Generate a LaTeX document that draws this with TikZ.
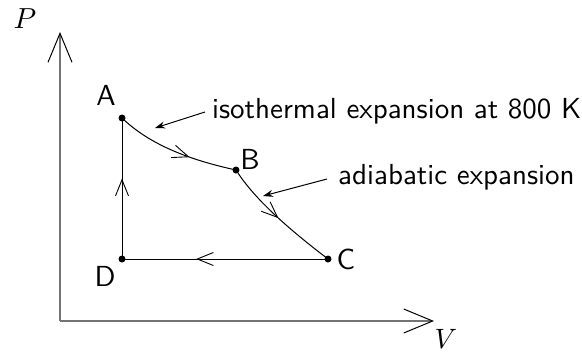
\documentclass[tikz,border=0pt]{standalone}
\usetikzlibrary{arrows.meta,decorations.markings}
\begin{document}
\begin{tikzpicture}[x=1pt,y=-1pt,
  axis/.style={draw=black!55,line width=1.4pt,-{Straight Barb[length=29pt,width=24pt,line width=1pt,black]}},
  cyc/.style={draw=black,line width=1pt},
  midarrow/.style={postaction={decorate,decoration={markings,mark=at position #1 with {\arrow{Straight Barb[length=16pt,width=13pt,line width=0.9pt]}}}}},
  pointer/.style={draw=black,line width=1pt,-{Stealth[length=10pt,width=7pt]}},
  dot/.style={circle,fill=black,inner sep=0pt,minimum size=7pt},
  lab/.style={font=\fontsize{10}{12}\selectfont\sffamily,inner sep=0pt},
  axlab/.style={font=\fontsize{10}{12}\selectfont,inner sep=0pt}]
\useasboundingbox (0,0) rectangle (582,354);
\coordinate (O) at (60,321);
\coordinate (Ptop) at (60,32);
\coordinate (Vend) at (434,321);
\draw[axis] (O) -- (Ptop);
\draw[axis] (O) -- (Vend);
\node[axlab,anchor=base] (Plab) at (25,28) {\scalebox{2.9}{$P$}};
\node[axlab,anchor=base] (Vlab) at (446,348) {\scalebox{2.8}{$V$}};
\node[dot] (A) at (122,118) {};
\node[dot] (B) at (236,170) {};
\node[dot] (C) at (328,259) {};
\node[dot] (D) at (122,259) {};
\node[lab,anchor=base] (Al) at (106,105) {\scalebox{2.9}{A}};
\node[lab,anchor=base] (Bl) at (250,169) {\scalebox{2.9}{B}};
\node[lab,anchor=base] (Cl) at (346,269) {\scalebox{2.9}{C}};
\node[lab,anchor=base] (Dl) at (105,286) {\scalebox{2.9}{D}};
\draw[cyc,midarrow=0.62] (A.center) .. controls (150,145) and (190,160) .. (B.center);
\draw[cyc,midarrow=0.5] (B.center) .. controls (255,200) and (290,230) .. (C.center);
\draw[cyc,midarrow=0.64] (C.center) -- (D.center);
\draw[cyc,midarrow=0.57] (D.center) -- (A.center);
\node[lab,anchor=base west] (iso) at (212,118) {\scalebox{2.9}{isothermal expansion at 800 K}};
\node[lab,anchor=base west] (adi) at (338,184) {\scalebox{2.9}{adiabatic expansion}};
\coordinate (isostart) at (205,112);
\coordinate (isotip) at (155,128);
\coordinate (adistart) at (327,179);
\coordinate (aditip) at (263,196);
\draw[pointer] (isostart) -- (isotip);
\draw[pointer] (adistart) -- (aditip);
\end{tikzpicture}
\end{document}
